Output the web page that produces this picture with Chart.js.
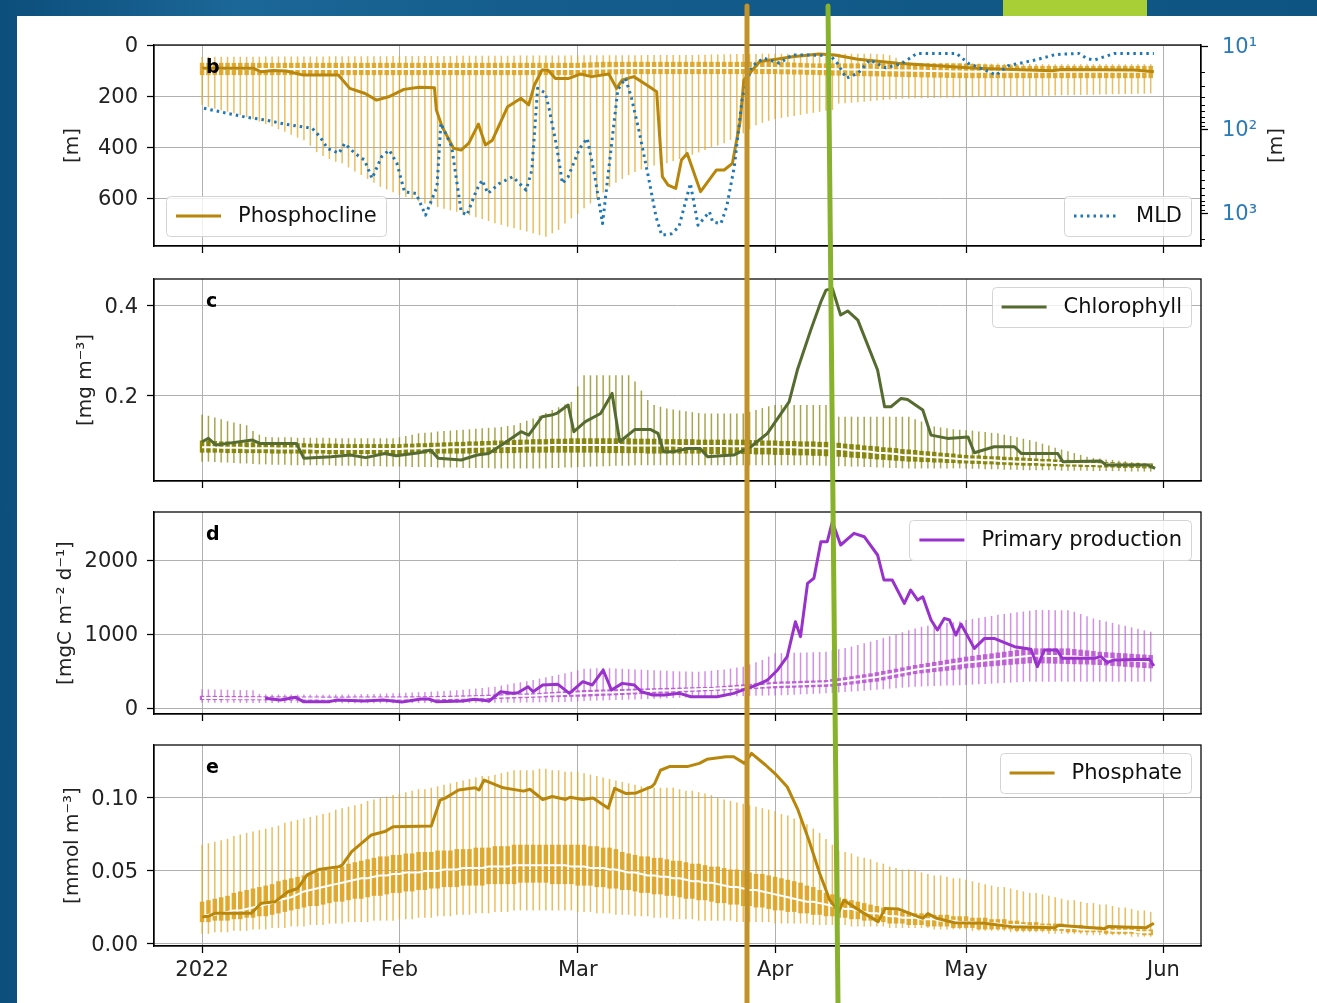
<!DOCTYPE html>
<html>
<head>
<meta charset="utf-8">
<title>Phosphocline, chlorophyll, primary production and phosphate, 2022</title>
<script src="https://cdn.jsdelivr.net/npm/chart.js@4.4.1/dist/chart.umd.min.js"></script>
<style>
html,body{margin:0;padding:0}
body{width:1317px;height:1003px;overflow:hidden;position:relative;
  background:linear-gradient(90deg,#0c4e7c 0%,#1b6797 18%,#145d8c 40%,#0e5482 100%)}
#sheet{position:absolute;left:17px;top:16px;width:1300px;height:987px;background:#fff}
#tab{position:absolute;left:1003px;top:0;width:144px;height:16px;background:#a9cf36}
canvas{position:absolute;left:0}
#marks{position:absolute;left:0;top:0;pointer-events:none}
</style>
</head>
<body>
<div id="sheet"></div>
<div id="tab"></div>
<canvas id="pb" width="1317" height="231" style="top:25px"></canvas>
<canvas id="pc" width="1317" height="232" style="top:259px"></canvas>
<canvas id="pd" width="1317" height="232" style="top:492px"></canvas>
<canvas id="pe" width="1317" height="266" style="top:725px"></canvas>
<svg id="marks" width="1317" height="1003">
  <line x1="747" y1="6" x2="747" y2="1003" stroke="#c1922c" stroke-width="5" stroke-linecap="round"/>
  <line x1="828" y1="6" x2="838" y2="1003" stroke="#88b22c" stroke-width="5" stroke-linecap="round"/>
</svg>
<script>
// ---- time axis: day of year 2022 (0 = 1 Jan) ----
const MONTH_DAYS = [0, 31, 59, 90, 120, 151];
const MONTH_LABELS = ['2022', 'Feb', 'Mar', 'Apr', 'May', 'Jun'];
const DAYS = Array.from({length: 150}, (_, i) => i); // daily climatology boxes, 1 Jan .. 30 May

// ---- b: phosphocline depth [m] and mixed layer depth [m] ----
const PHOSPHOCLINE = [[0,91],[8,91],[9.3,105],[11.1,100],[13.2,102],[15.9,118],[21.4,118],[23.2,170],[25.6,190],[27.4,216],[29.3,203],[31.7,174],[34.1,166],[36.5,168],[36.8,255],[37.7,320],[39.5,405],[40.7,412],[41.9,385],[43.4,310],[44.5,392],[45.6,373],[48,242],[50.1,209],[51.3,235],[52.2,157],[53.4,98],[54.3,98],[55.5,131],[57.6,131],[59.4,114],[61.2,124],[63.9,114],[65.1,170],[66,137],[67.8,124],[70.2,163],[71.4,183],[72.3,516],[73.2,549],[74.4,562],[75.3,451],[76.2,425],[78.3,575],[80.8,490],[82,490],[83.3,464],[84.5,300],[85.1,137],[87.6,65],[90.2,56],[92.7,46],[96.9,35],[99.4,39],[103,56],[109.3,72],[121.6,91],[133.5,101],[135,96],[146.4,98],[149.5,105]];
const MLD = [[0.3,55],[3.9,63],[7,70.5],[10,76],[13,85],[17.3,95.5],[18.5,120],[19.7,166],[21.5,190],[22.4,145],[24,190],[25.5,229],[26.7,380],[28.2,209],[29.4,174],[30.6,251],[31.8,550],[33.6,575],[35.1,1047],[36.9,479],[37.5,83],[39.2,158],[40.7,955],[41.6,1047],[43.1,525],[44,398],[44.9,575],[46.7,437],[48.8,363],[50.9,525],[51.8,302],[52.7,31.6],[53.9,36],[54.5,55],[55.7,158],[56.6,437],[57.5,363],[59.3,166],[60.5,126],[61.7,363],[62.9,1318],[63.8,331],[65.3,33],[66.5,24],[67.4,40],[68.6,100],[70.1,363],[71.3,1096],[72.2,1820],[73.7,1750],[74.9,1445],[76.7,437],[77.9,1380],[79.7,955],[80.2,1260],[81.5,1318],[82.4,830],[83.6,275],[84.8,44],[86.3,17.4],[88.2,13.8],[90.7,15.9],[92.7,12.6],[98.7,12.8],[99.8,16],[101.2,24],[103,21],[104.9,14.5],[107.4,18],[109.9,16],[112.3,12.1],[118.5,12.1],[120.4,16],[122.9,19],[124.7,22],[126.6,17],[130.9,14.5],[134,12.5],[137.7,12.1],[139,14],[140.2,14.5],[143.3,12.1],[149.5,12.1]];
const B_TOP = [
46,46,46,46,46,46,46,46,46,46,
45,45,45,45,45,45,45,45,45,45,
44,44,44,44,44,44,44,44,44,44,
43,43,43,43,43,43,43,43,43,43,
42,42,42,42,42,42,42,42,42,42,
41,41,41,41,41,41,41,41,41,41,
40,40,40,40,40,40,40,40,40,40,
39,39,39,39,39,39,39,39,38,38,
37,37,36,36,35,35,35,35,34,34,
34,34,34,34,34,34,34,34,34,34,
34,34,34,34,34,34,35,36,40,50,
60,66,70,72,72,72,72,72,72,72,
72,72,73,73,73,73,74,74,74,74,
74,74,75,75,75,75,75,75,75,75,
75,75,75,75,75,75,75,75,75,75];
const B_Q1 = [
70,70,70,70,70,70,70,70,70,70,
70,70,70,70,70,70,70,70,70,70,
70,70,70,70,70,70,70,70,70,70,
70,70,70,70,70,70,70,70,70,70,
70,70,70,70,70,70,70,70,70,70,
70,70,70,70,70,70,70,70,70,70,
69,68,67,66,66,66,66,66,66,66,
66,66,66,66,66,66,66,66,66,66,
66,66,66,66,66,66,66,66,66,66,
66,67,68,69,70,71,72,72,72,72,
72,72,72,72,72,72,72,72,72,72,
72,72,72,72,72,72,72,72,72,72,
73,74,75,76,77,78,79,80,81,82,
82,82,82,82,82,82,82,82,82,82,
82,82,82,82,82,82,82,82,82,82];
const B_MED = [
94,94,94,94,94,94,94,94,94,94,
94,94,94,94,94,94,94,94,94,94,
94,94,94,94,94,94,94,94,94,94,
94,94,94,94,94,94,94,94,94,94,
94,94,94,94,94,94,94,94,94,94,
94,94,94,94,94,94,94,94,94,94,
93,93,92,92,91,91,90,90,90,90,
90,90,90,90,90,90,90,90,90,90,
90,90,90,90,90,90,90,90,90,90,
90,91,91,92,92,93,93,94,94,95,
95,95,96,96,97,97,98,98,99,99,
100,100,101,101,102,102,103,103,104,104,
105,105,105,105,105,105,105,105,105,105,
105,105,105,105,105,105,105,105,105,105,
105,105,105,105,105,105,105,105,105,105];
const B_Q3 = [
118,118,118,118,118,118,118,118,118,118,
118,118,118,118,118,118,118,118,118,118,
118,118,118,118,118,118,118,118,118,118,
118,118,118,118,118,118,118,118,118,118,
118,118,118,118,118,118,118,118,118,118,
118,118,118,118,118,118,118,118,118,118,
117,117,116,116,115,115,114,114,114,114,
114,114,114,114,114,114,114,114,114,114,
114,114,114,114,114,114,114,114,114,114,
114,115,115,116,116,117,117,118,119,120,
120,121,121,122,122,123,123,124,124,125,
125,126,126,127,127,128,128,129,129,130,
130,130,130,130,130,130,130,130,130,130,
130,130,130,130,130,130,130,130,130,130,
130,130,130,130,130,130,130,130,130,130];
const B_BOT = [
235,243,250,256,262,268,275,283,290,300,
310,320,330,340,352,363,373,395,420,435,
447,458,464,480,496,510,525,540,556,566,
577,588,596,605,613,621,628,635,642,648,
654,661,668,675,682,690,699,705,712,718,
725,731,738,745,752,738,725,700,680,662,
640,621,600,578,556,540,525,510,498,488,
477,472,468,464,455,447,438,430,421,412,
403,394,385,372,359,346,330,315,305,297,
290,286,282,278,274,270,266,262,258,255,
230,228,226,224,222,220,218,216,214,212,
210,210,209,209,208,208,207,207,206,206,
205,205,204,204,203,203,202,202,201,201,
200,200,199,199,198,197,197,196,196,195,
195,194,194,193,193,192,192,191,191,190];

// ---- c: chlorophyll [mg m-3] ----
const CHLOROPHYLL = [[0,.0963],[1,.1037],[2.2,.0889],[4,.0926],[7.9,.100],[9.1,.0926],[14.8,.0926],[16,.0593],[20.3,.063],[23.3,.0667],[25.7,.061],[28.7,.070],[30.5,.065],[34.1,.0718],[35.9,.0778],[37.1,.0593],[40.7,.0556],[43.2,.0667],[45,.070],[47.4,.0926],[50.1,.1185],[51.3,.111],[53.4,.152],[54.9,.1556],[55.8,.160],[57.5,.178],[58.4,.1185],[60.2,.141],[62.6,.159],[64.4,.2037],[65.6,.0963],[68,.1237],[70.4,.1237],[71.6,.115],[72.5,.074],[74,.074],[76.4,.0815],[78.2,.0815],[79.4,.063],[81.5,.065],[83.5,.0667],[86.2,.0852],[88.8,.115],[92.2,.185],[93.5,.2556],[95.6,.3444],[97.2,.4074],[98,.4333],[99,.437],[100.3,.3778],[101.4,.387],[103,.3667],[106.1,.2556],[107.2,.174],[108.2,.174],[109.8,.1926],[110.8,.190],[113.2,.1667],[114.5,.111],[117.1,.1037],[120.3,.107],[121.3,.0718],[124.4,.0852],[127.6,.0852],[128.7,.070],[134.4,.070],[135.2,.0518],[141.2,.0533],[142,.0444],[148.6,.0444],[149.7,.037]];
const C_HI = [
0.156,0.154,0.150,0.146,0.142,0.139,0.136,0.133,0.120,0.112,
0.107,0.106,0.106,0.106,0.106,0.105,0.105,0.105,0.105,0.105,
0.105,0.104,0.104,0.104,0.104,0.104,0.104,0.104,0.104,0.104,
0.104,0.106,0.109,0.112,0.115,0.116,0.117,0.119,0.120,0.121,
0.122,0.123,0.124,0.125,0.126,0.127,0.128,0.129,0.131,0.133,
0.138,0.143,0.148,0.154,0.160,0.167,0.173,0.179,0.185,0.219,
0.244,0.244,0.244,0.244,0.244,0.244,0.244,0.244,0.230,0.210,
0.189,0.178,0.174,0.170,0.168,0.166,0.164,0.162,0.160,0.159,
0.159,0.159,0.159,0.159,0.159,0.159,0.163,0.167,0.171,0.175,
0.178,0.178,0.178,0.178,0.178,0.178,0.178,0.178,0.178,0.165,
0.152,0.152,0.152,0.152,0.152,0.152,0.152,0.152,0.152,0.152,
0.152,0.152,0.146,0.141,0.135,0.130,0.128,0.126,0.124,0.123,
0.122,0.121,0.119,0.118,0.116,0.115,0.112,0.109,0.106,0.103,
0.100,0.096,0.092,0.088,0.083,0.079,0.075,0.071,0.067,0.063,
0.060,0.059,0.057,0.056,0.054,0.053,0.051,0.050,0.048,0.048];
const C_Q3 = [
0.099,0.098,0.098,0.097,0.097,0.096,0.096,0.095,0.095,0.095,
0.094,0.094,0.094,0.093,0.093,0.093,0.093,0.092,0.092,0.092,
0.092,0.092,0.091,0.091,0.091,0.091,0.091,0.091,0.091,0.091,
0.091,0.091,0.092,0.092,0.093,0.093,0.094,0.094,0.095,0.095,
0.096,0.096,0.097,0.097,0.098,0.098,0.099,0.099,0.100,0.100,
0.101,0.101,0.102,0.102,0.102,0.103,0.103,0.103,0.104,0.104,
0.104,0.104,0.104,0.104,0.104,0.104,0.104,0.104,0.103,0.103,
0.103,0.103,0.103,0.102,0.102,0.102,0.102,0.102,0.101,0.101,
0.101,0.101,0.101,0.101,0.101,0.101,0.100,0.100,0.099,0.099,
0.099,0.098,0.098,0.098,0.097,0.097,0.097,0.096,0.096,0.095,
0.094,0.092,0.091,0.090,0.088,0.087,0.086,0.084,0.083,0.082,
0.080,0.079,0.078,0.076,0.075,0.074,0.072,0.071,0.070,0.068,
0.067,0.066,0.066,0.065,0.064,0.064,0.063,0.062,0.062,0.061,
0.060,0.059,0.058,0.058,0.057,0.056,0.056,0.055,0.054,0.053,
0.052,0.052,0.051,0.051,0.050,0.050,0.049,0.049,0.048,0.048];
const C_MED = [
0.084,0.084,0.084,0.083,0.083,0.083,0.083,0.082,0.082,0.082,
0.082,0.082,0.081,0.081,0.081,0.081,0.081,0.081,0.080,0.080,
0.080,0.080,0.080,0.080,0.080,0.080,0.080,0.080,0.080,0.080,
0.080,0.080,0.081,0.081,0.082,0.082,0.082,0.083,0.083,0.084,
0.084,0.084,0.085,0.085,0.085,0.086,0.086,0.086,0.087,0.087,
0.087,0.088,0.088,0.088,0.088,0.089,0.089,0.089,0.089,0.089,
0.089,0.089,0.089,0.089,0.089,0.089,0.089,0.088,0.088,0.088,
0.088,0.088,0.088,0.088,0.088,0.087,0.087,0.087,0.087,0.087,
0.087,0.087,0.087,0.086,0.086,0.086,0.086,0.085,0.085,0.085,
0.085,0.084,0.084,0.084,0.083,0.083,0.083,0.082,0.082,0.081,
0.080,0.079,0.077,0.076,0.075,0.074,0.072,0.071,0.070,0.069,
0.067,0.066,0.065,0.064,0.063,0.062,0.061,0.060,0.059,0.058,
0.057,0.057,0.056,0.055,0.055,0.054,0.053,0.053,0.052,0.052,
0.051,0.051,0.050,0.050,0.049,0.049,0.048,0.048,0.048,0.047,
0.047,0.046,0.046,0.046,0.045,0.045,0.045,0.044,0.044,0.044];
const C_Q1 = [
0.072,0.072,0.072,0.072,0.071,0.071,0.071,0.071,0.071,0.071,
0.071,0.070,0.070,0.070,0.070,0.070,0.070,0.070,0.070,0.070,
0.069,0.069,0.069,0.069,0.069,0.069,0.069,0.069,0.069,0.069,
0.069,0.069,0.069,0.069,0.069,0.070,0.070,0.070,0.070,0.070,
0.070,0.070,0.070,0.071,0.071,0.071,0.071,0.071,0.071,0.071,
0.072,0.072,0.072,0.072,0.072,0.072,0.072,0.072,0.072,0.072,
0.072,0.072,0.072,0.071,0.071,0.071,0.071,0.071,0.071,0.071,
0.070,0.070,0.070,0.070,0.070,0.070,0.070,0.070,0.070,0.069,
0.069,0.069,0.069,0.069,0.069,0.069,0.069,0.068,0.068,0.068,
0.067,0.067,0.067,0.066,0.066,0.066,0.065,0.065,0.064,0.064,
0.063,0.062,0.061,0.060,0.059,0.058,0.057,0.056,0.055,0.054,
0.053,0.052,0.052,0.051,0.051,0.050,0.050,0.049,0.049,0.048,
0.048,0.047,0.047,0.046,0.046,0.045,0.045,0.044,0.044,0.043,
0.043,0.043,0.042,0.042,0.042,0.041,0.041,0.041,0.040,0.040,
0.040,0.039,0.039,0.039,0.038,0.038,0.038,0.038,0.037,0.037];
const C_LO = [
0.052,0.052,0.051,0.050,0.050,0.049,0.048,0.048,0.047,0.046,
0.046,0.045,0.045,0.045,0.044,0.044,0.044,0.044,0.044,0.044,
0.044,0.043,0.043,0.043,0.043,0.042,0.042,0.042,0.042,0.041,
0.041,0.041,0.041,0.040,0.040,0.040,0.040,0.039,0.039,0.039,
0.039,0.038,0.038,0.038,0.038,0.038,0.037,0.037,0.037,0.037,
0.037,0.037,0.037,0.037,0.037,0.038,0.038,0.039,0.039,0.040,
0.040,0.041,0.041,0.042,0.042,0.043,0.043,0.043,0.044,0.044,
0.044,0.044,0.044,0.044,0.044,0.044,0.044,0.044,0.044,0.044,
0.044,0.044,0.044,0.044,0.044,0.044,0.044,0.044,0.044,0.044,
0.044,0.044,0.044,0.044,0.044,0.044,0.044,0.043,0.043,0.043,
0.042,0.042,0.041,0.041,0.040,0.040,0.039,0.039,0.038,0.038,
0.037,0.037,0.037,0.037,0.037,0.037,0.037,0.037,0.037,0.037,
0.036,0.036,0.036,0.035,0.035,0.035,0.034,0.034,0.034,0.033,
0.033,0.033,0.033,0.033,0.033,0.032,0.032,0.032,0.032,0.032,
0.031,0.031,0.031,0.031,0.031,0.030,0.030,0.030,0.030,0.030];

// ---- d: primary production [mgC m-2 d-1] ----
const PRIMARY_PRODUCTION = [[9.9,131],[12.3,108],[14.7,144],[15.9,86],[20,86],[21.2,108],[25.4,95],[28.4,108],[31.4,81],[34.4,122],[35.6,122],[36.8,86],[41,95],[42.8,117],[45.1,95],[46.9,220],[48.7,198],[49.6,205],[51.2,288],[52,220],[53.5,311],[55.9,320],[57.7,198],[59.8,356],[61.3,311],[63,513],[64.3,243],[66,333],[67.9,311],[69,220],[70.8,176],[72.6,176],[75,198],[76.8,153],[80.9,153],[83.5,198],[85.6,266],[86.7,297],[88.8,378],[90.4,514],[91.9,694],[93.2,1167],[94,964],[95.1,1685],[96.1,1753],[97.2,2248],[98.2,2248],[99,2518],[100.3,2203],[102.4,2360],[104,2315],[106.1,2068],[107.1,1730],[108.4,1730],[110.3,1414],[111.3,1595],[112.4,1459],[113.2,1504],[114.5,1189],[115.5,1054],[116.6,1212],[117.4,1189],[118.4,986],[119.2,1135],[121.3,806],[122.9,941],[124.4,941],[127.6,829],[130.2,793],[131.2,559],[132.3,784],[134.3,784],[135.1,671],[140.1,671],[141.2,694],[142.2,613],[143.2,649],[148.8,658],[149.5,568]];
const D_HI = [
255,253,251,249,247,245,243,241,240,190,
185,184,183,182,182,181,181,180,180,180,
180,181,182,183,184,186,188,190,193,196,
199,202,206,210,214,218,222,226,230,235,
240,248,256,264,272,280,288,303,318,333,
348,363,378,396,414,432,450,470,490,510,
530,533,537,540,537,533,530,526,522,518,
513,510,506,502,498,495,493,491,491,498,
505,513,520,533,546,558,589,620,650,695,
739,741,743,746,748,750,754,757,761,778,
795,812,830,852,875,897,919,945,971,997,
1024,1050,1075,1099,1112,1125,1138,1150,1160,1170,
1189,1203,1217,1231,1245,1260,1271,1282,1293,1304,
1315,1324,1324,1323,1322,1321,1320,1300,1270,1240,
1210,1189,1170,1150,1130,1110,1090,1070,1050,1031];
const D_Q3 = [
165,164,164,163,163,162,162,161,161,160,
160,159,159,158,158,157,157,156,156,155,
155,155,155,156,156,156,157,157,157,158,
158,158,158,159,159,160,161,163,164,166,
168,170,172,174,176,180,183,186,189,192,
195,198,200,205,211,216,222,227,232,238,
243,245,248,250,252,254,257,259,261,264,
266,268,270,272,274,276,278,281,283,285,
285,292,299,306,313,320,327,334,341,348,
356,359,361,364,367,370,372,375,378,391,
404,417,430,443,455,468,484,500,516,532,
548,565,581,595,609,623,637,652,666,680,
694,705,716,727,738,750,761,772,783,795,
806,806,806,806,806,806,806,797,788,779,
770,761,755,750,744,739,733,727,722,716];
const D_MED = [
135,135,134,134,133,133,132,132,131,131,
130,130,129,129,128,128,127,127,127,126,
126,126,126,126,127,127,127,128,128,129,
129,129,130,130,131,131,132,133,134,136,
138,140,142,144,146,149,152,155,158,161,
164,167,170,174,178,182,186,190,193,196,
200,202,205,208,210,213,217,220,223,226,
229,232,235,238,241,244,247,250,253,256,
258,262,266,271,276,281,287,292,297,303,
310,313,316,319,322,325,327,330,333,341,
350,362,374,385,397,409,420,436,452,468,
484,501,518,530,542,554,566,578,590,601,
614,623,632,641,651,660,669,678,687,697,
706,706,705,704,703,702,701,695,689,684,
678,672,666,660,655,649,643,637,632,626];
const D_Q1 = [
108,108,107,107,106,106,105,105,104,104,
103,103,102,102,101,101,100,100,100,100,
100,100,100,100,100,100,101,101,101,102,
102,102,103,103,104,104,105,106,107,108,
109,110,112,114,116,118,120,123,126,129,
132,135,138,141,143,145,147,149,151,152,
153,157,161,165,168,172,176,180,184,188,
191,195,199,203,207,211,215,218,220,225,
229,233,237,241,245,249,253,257,261,264,
266,269,271,274,276,278,281,283,285,288,
298,308,318,328,338,348,356,373,390,408,
425,442,458,468,477,486,494,503,511,520,
536,543,550,557,563,570,577,584,591,597,
604,604,603,601,599,597,594,592,590,588,
584,581,575,569,563,557,551,546,541,536];
const D_LO = [
72,72,71,71,70,70,70,69,69,69,
68,68,68,67,67,67,66,66,66,66,
66,66,65,65,65,65,65,65,65,65,
65,65,66,66,66,67,67,68,68,68,
69,69,69,70,70,70,71,71,72,72,
73,74,75,76,77,78,79,80,85,90,
95,98,100,103,105,108,110,113,115,118,
120,124,128,131,135,139,143,147,150,152,
153,155,157,158,160,162,163,165,167,168,
170,173,177,180,184,187,191,194,198,204,
210,216,222,228,234,240,247,254,261,268,
275,282,288,291,294,297,300,303,306,308,
311,316,320,325,329,334,338,343,347,352,
356,356,356,356,356,356,356,356,356,356,
356,356,356,356,356,356,356,356,356,356];

// ---- e: phosphate [mmol m-3] ----
const PHOSPHATE = [[0,.0187],[1,.019],[2,.021],[7.7,.021],[9.3,.0279],[11.5,.029],[13.5,.0358],[15,.038],[16.5,.0473],[18.3,.051],[21.5,.053],[22,.054],[23.5,.0632],[26.6,.0747],[28.7,.077],[30,.0803],[36,.0808],[37.4,.0986],[38.2,.0999],[40.3,.1055],[42.9,.107],[43.5,.1055],[44.3,.1123],[47.3,.107],[50.5,.1047],[51.5,.106],[53.5,.099],[55,.101],[57.1,.099],[57.8,.1005],[59.8,.099],[61.4,.100],[63.8,.093],[64.8,.1066],[66.6,.103],[68.2,.1035],[70.7,.108],[71.1,.110],[72,.119],[73.4,.1215],[76.2,.1215],[78.1,.1237],[79.3,.1265],[82.3,.1283],[83.5,.1283],[85.2,.1237],[86.3,.1306],[88.5,.1226],[90.2,.1158],[91.9,.1077],[93.6,.0918],[95.3,.0712],[97,.0484],[98.6,.030],[100,.022],[100.8,.030],[103.6,.022],[106.2,.0153],[107.3,.0244],[109.3,.024],[113.2,.0176],[114,.0208],[115.4,.0176],[118.2,.0146],[122.8,.0142],[127.2,.0119],[134,.0112],[134.5,.0128],[141.8,.0105],[142.3,.012],[148.3,.0112],[149.5,.0142]];
const E_HI = [
.068,.069,.070,.071,.072,.074,.075,.076,.077,.078,
.079,.080,.081,.083,.084,.085,.086,.087,.088,.089,
.090,.092,.093,.094,.095,.096,.098,.099,.100,.101,
.102,.103,.104,.105,.106,.106,.107,.108,.109,.110,
.111,.112,.113,.114,.115,.115,.116,.117,.118,.119,
.119,.119,.119,.120,.120,.119,.119,.118,.118,.118,
.117,.116,.115,.114,.113,.112,.111,.110,.109,.108,
.108,.107,.107,.107,.107,.106,.105,.105,.104,.103,
.102,.100,.099,.098,.097,.096,.095,.094,.093,.092,
.091,.089,.088,.086,.085,.082,.079,.076,.072,.068,
.064,.063,.062,.060,.059,.058,.056,.055,.053,.052,
.051,.051,.050,.049,.048,.047,.047,.046,.045,.045,
.044,.043,.042,.041,.040,.039,.039,.038,.037,.036,
.035,.035,.034,.033,.032,.031,.030,.030,.029,.028,
.028,.027,.027,.026,.025,.025,.024,.023,.023,.022];
const E_Q3 = [
.029,.030,.031,.032,.033,.035,.036,.037,.038,.039,
.040,.041,.043,.044,.045,.046,.047,.048,.049,.050,
.051,.052,.053,.055,.056,.057,.058,.059,.060,.060,
.061,.061,.062,.062,.063,.063,.063,.064,.064,.064,
.065,.065,.065,.066,.066,.066,.067,.067,.067,.068,
.068,.068,.068,.068,.068,.068,.068,.068,.068,.068,
.068,.067,.067,.066,.066,.065,.063,.062,.061,.060,
.060,.059,.059,.058,.057,.057,.056,.055,.055,.054,
.053,.053,.052,.051,.051,.050,.049,.048,.048,.047,
.046,.045,.044,.043,.042,.040,.039,.037,.035,.034,
.032,.031,.030,.029,.028,.027,.026,.025,.024,.023,
.022,.022,.021,.021,.021,.020,.020,.020,.019,.019,
.019,.018,.018,.018,.017,.017,.017,.016,.016,.015,
.015,.015,.014,.014,.014,.014,.013,.013,.013,.012,
.012,.012,.012,.011,.011,.011,.011,.010,.010,.010];
const E_MED = [
.019,.020,.020,.021,.022,.023,.023,.024,.025,.026,
.027,.028,.030,.031,.032,.034,.036,.037,.038,.039,
.040,.041,.042,.043,.044,.045,.045,.046,.047,.047,
.048,.048,.049,.049,.049,.050,.050,.050,.051,.051,
.051,.052,.052,.052,.052,.053,.053,.053,.053,.054,
.054,.054,.054,.054,.054,.054,.054,.054,.053,.053,
.053,.052,.052,.052,.051,.051,.050,.049,.049,.048,
.047,.047,.046,.046,.045,.045,.044,.043,.043,.042,
.042,.041,.040,.039,.039,.038,.037,.037,.036,.035,
.034,.033,.032,.031,.030,.029,.029,.028,.027,.026,
.025,.024,.024,.023,.022,.021,.021,.020,.019,.019,
.018,.018,.018,.017,.017,.017,.016,.016,.016,.015,
.015,.015,.014,.014,.014,.014,.013,.013,.013,.013,
.012,.012,.012,.012,.011,.011,.011,.011,.010,.010,
.010,.010,.010,.009,.009,.009,.009,.008,.008,.008];
const E_Q1 = [
.015,.015,.016,.016,.016,.017,.017,.018,.018,.019,
.019,.020,.021,.022,.023,.024,.025,.026,.026,.027,
.028,.029,.029,.030,.031,.031,.032,.033,.033,.034,
.035,.035,.036,.036,.037,.037,.038,.038,.039,.039,
.039,.040,.040,.040,.040,.041,.041,.041,.041,.041,
.042,.042,.042,.042,.042,.041,.041,.041,.041,.040,
.040,.040,.039,.039,.038,.038,.037,.037,.036,.035,
.035,.034,.034,.033,.033,.032,.031,.031,.030,.030,
.029,.028,.028,.027,.027,.026,.026,.025,.025,.024,
.023,.023,.022,.022,.021,.021,.020,.020,.019,.019,
.018,.018,.017,.017,.016,.016,.015,.015,.014,.014,
.014,.013,.013,.013,.012,.012,.012,.012,.011,.011,
.011,.011,.010,.010,.010,.010,.010,.010,.009,.009,
.009,.009,.009,.009,.009,.009,.008,.008,.008,.008,
.008,.008,.007,.007,.007,.007,.007,.007,.006,.006];
const E_LO = [
.007,.007,.008,.008,.008,.009,.009,.009,.010,.010,
.010,.011,.011,.011,.012,.012,.012,.013,.013,.013,
.014,.014,.014,.015,.015,.015,.015,.016,.016,.016,
.016,.017,.017,.017,.018,.018,.018,.019,.019,.019,
.020,.020,.020,.021,.021,.021,.022,.022,.022,.023,
.023,.023,.023,.023,.023,.023,.023,.023,.023,.022,
.022,.022,.021,.021,.021,.020,.020,.020,.019,.019,
.019,.018,.018,.018,.017,.017,.017,.017,.016,.016,
.016,.016,.016,.016,.015,.015,.015,.015,.015,.015,
.014,.014,.014,.014,.014,.014,.013,.013,.013,.013,
.013,.013,.012,.012,.012,.012,.012,.012,.011,.011,
.011,.011,.011,.011,.011,.010,.010,.010,.010,.010,
.010,.009,.009,.009,.009,.009,.009,.008,.008,.008,
.008,.008,.008,.007,.007,.007,.007,.007,.007,.006,
.006,.006,.006,.006,.006,.006,.005,.005,.005,.005];

// ---- axis ticks ----
const B_TICKS = [0, 200, 400, 600];
const MLD_TICKS = [10, 100, 1000];
const MLD_TICK_LABELS = {10: '10¹', 100: '10²', 1000: '10³'};
const MLD_MINOR_TICKS = [20, 30, 40, 50, 60, 70, 80, 90, 200, 300, 400, 500, 600, 700, 800, 900, 2000];
const C_TICKS = [0.2, 0.4];
const D_TICKS = [0, 1000, 2000];
const E_TICKS = [0, 0.05, 0.10];

// ---- helpers ----
Chart.defaults.font.family = '"DejaVu Sans", sans-serif';
Chart.defaults.color = '#222';

const X_MIN = -7.55, X_MAX = 156.9;
const GRID = {color: '#b0b0b0', lineWidth: 1, offset: false, drawTicks: true, tickLength: 7, tickColor: '#000', tickWidth: 1.25};
const BORDER = {display: true, color: '#000', width: 1.25};
const TICK_FONT = {size: 21};

// fixed axis box sizes, no extra label overhang padding
function fixBox(s, w, h) {
  if (w !== null) s.width = w;
  if (h !== null) s.height = h;
  s.paddingTop = 0; s.paddingBottom = 0; s.paddingLeft = 0; s.paddingRight = 0;
}

const pairs = list => list.map(([x, y]) => ({x, y}));
const daily = vals => DAYS.map((d, i) => ({x: d, y: vals[i]}));
const ranges = (lo, hi) => DAYS.map((d, i) => ({x: d, y: [lo[i], hi[i]]}));

function xAxis(withLabels) {
  return {
    type: 'linear', min: X_MIN, max: X_MAX, offset: false,
    afterBuildTicks: s => { s.ticks = MONTH_DAYS.map(v => ({value: v})); },
    afterFit: s => fixBox(s, null, withLabels ? 45 : 10),
    grid: GRID, border: BORDER,
    ticks: {display: withLabels, padding: 5, maxRotation: 0, autoSkip: false, font: TICK_FONT, color: '#222',
      callback: v => MONTH_LABELS[MONTH_DAYS.indexOf(v)]}
  };
}
function yAxis({min, max, ticks, fmt, title, width, reverse = false}) {
  return {
    type: 'linear', position: 'left', min, max, reverse,
    afterBuildTicks: s => { s.ticks = ticks.map(v => ({value: v})); },
    afterFit: s => fixBox(s, width, null),
    grid: GRID, border: BORDER,
    ticks: {padding: 9, labelOffset: 2, font: TICK_FONT, color: '#222', callback: v => fmt(v)},
    title: {display: true, text: title, font: {size: 20}, color: '#222', padding: 0}
  };
}
function boxSets(lo, q1, med, q3, hi, whiskerColor, boxColor) {
  return [
    {type: 'bar', data: ranges(lo, hi), backgroundColor: whiskerColor, barThickness: 1.5, grouped: false, borderWidth: 0, inflateAmount: 0, order: 6},
    {type: 'bar', data: ranges(q1, q3), backgroundColor: boxColor, barThickness: 4.5, grouped: false, borderWidth: 0, inflateAmount: 0, order: 5},
    {type: 'line', data: daily(med), borderColor: '#ffffff', borderWidth: 2, pointRadius: 0, order: 4}
  ];
}
function mainLine(label, list, color, extra = {}) {
  return Object.assign({type: 'line', label, data: pairs(list), borderColor: color, borderWidth: 3,
    pointRadius: 0, tension: 0, borderJoinStyle: 'round', order: 1}, extra);
}

// frame, panel letter, in-axes legends, log minor ticks
const decor = {
  id: 'decor',
  afterDraw(chart, _args, o) {
    const {ctx, chartArea: a} = chart;
    ctx.save();
    ctx.strokeStyle = '#000';
    ctx.lineWidth = 1.25;
    ctx.strokeRect(a.left, a.top, a.right - a.left, a.bottom - a.top);
    if (o.logAxis) {
      const s = chart.scales[o.logAxis];
      ctx.lineWidth = 1;
      ctx.beginPath();
      MLD_MINOR_TICKS.forEach(v => {
        const y = Math.round(s.getPixelForValue(v)) + 0.5;
        ctx.moveTo(a.right, y); ctx.lineTo(a.right + 4, y);
      });
      ctx.stroke();
      ctx.save();
      ctx.font = '20px "DejaVu Sans"';
      ctx.fillStyle = '#222';
      ctx.translate(o.rightTitleX, (a.top + a.bottom) / 2);
      ctx.rotate(-Math.PI / 2);
      ctx.textAlign = 'center'; ctx.textBaseline = 'middle';
      ctx.fillText(o.rightTitle, 0, 0);
      ctx.restore();
    }
    ctx.font = 'bold 19px "DejaVu Sans"';
    ctx.fillStyle = '#000';
    ctx.textAlign = 'left'; ctx.textBaseline = 'middle';
    ctx.fillText(o.letter, a.left + 52, a.top + 23);
    (o.legends || []).forEach(L => {
      const ds = chart.data.datasets[L.dataset];
      ctx.font = '21px "DejaVu Sans"';
      const tw = ctx.measureText(ds.label).width;
      const w = 72 + tw + 9, h = 40;
      const x = L.corner[1] === 'l' ? a.left + 12 : a.right - 10 - w;
      const y = L.corner[0] === 'u' ? a.top + 8 : a.bottom - 10 - h;
      ctx.beginPath();
      ctx.roundRect(Math.round(x) + 0.5, Math.round(y) + 0.5, Math.round(w), h, 4);
      ctx.fillStyle = 'rgba(255,255,255,0.8)';
      ctx.fill();
      ctx.strokeStyle = '#d4d4d4'; ctx.lineWidth = 1;
      ctx.stroke();
      ctx.beginPath();
      ctx.setLineDash(ds.borderDash || []);
      ctx.strokeStyle = ds.borderColor; ctx.lineWidth = ds.borderWidth;
      ctx.moveTo(x + 10, y + h / 2); ctx.lineTo(x + 55, y + h / 2);
      ctx.stroke();
      ctx.setLineDash([]);
      ctx.fillStyle = '#111';
      ctx.textAlign = 'left'; ctx.textBaseline = 'middle';
      ctx.fillText(ds.label, x + 72, y + h / 2 + 1);
    });
    ctx.restore();
  }
};

function panel(id, {datasets, scales, padLeft, padRight, decorOpts}) {
  return new Chart(document.getElementById(id), {
    type: 'bar',
    data: {datasets},
    options: {
      responsive: false, animation: false, devicePixelRatio: 1, events: [],
      layout: {padding: {left: padLeft, right: padRight, top: 20, bottom: 0}},
      scales,
      plugins: {legend: {display: false}, tooltip: {enabled: false}, decor: decorOpts}
    },
    plugins: [decor]
  });
}

const GOLD_LINE = '#b8860b';
const GOLD_WHISKER = 'rgba(224,168,40,0.75)';
const GOLD_BOX = 'rgba(222,167,40,0.95)';

// b: phosphocline and mixed layer depth
panel('pb', {
  padLeft: 61, padRight: 0,
  datasets: [
    mainLine('Phosphocline', PHOSPHOCLINE, GOLD_LINE, {yAxisID: 'y'}),
    mainLine('MLD', MLD, '#1f77b4', {yAxisID: 'y2', borderDash: [2.5, 4], borderCapStyle: 'butt', order: 0}),
    ...boxSets(B_TOP, B_Q1, B_MED, B_Q3, B_BOT, GOLD_WHISKER, GOLD_BOX)
  ],
  scales: {
    x: xAxis(false),
    y: yAxis({min: 0, max: 788, reverse: true, ticks: B_TICKS, fmt: v => String(v), title: '[m]', width: 93}),
    y2: {
      type: 'logarithmic', position: 'right', min: 9.6, max: 2450, reverse: true,
      afterBuildTicks: s => { s.ticks = MLD_TICKS.map(v => ({value: v})); },
      afterFit: s => fixBox(s, 116, null),
      grid: {drawOnChartArea: false, drawTicks: true, tickLength: 7, tickColor: '#000', tickWidth: 1.25},
      border: BORDER,
      ticks: {padding: 14, labelOffset: 1, font: TICK_FONT, color: '#2b7bb9', callback: v => MLD_TICK_LABELS[v] || ''}
    }
  },
  decorOpts: {letter: 'b', logAxis: 'y2', rightTitle: '[m]', rightTitleX: 1277,
    legends: [{dataset: 0, corner: 'll'}, {dataset: 1, corner: 'lr'}]}
});

// c: chlorophyll
panel('pc', {
  padLeft: 74, padRight: 116,
  datasets: [
    mainLine('Chlorophyll', CHLOROPHYLL, '#556b2f'),
    ...boxSets(C_LO, C_Q1, C_MED, C_Q3, C_HI, 'rgba(128,128,0,0.7)', 'rgba(128,128,0,0.92)')
  ],
  scales: {
    x: xAxis(false),
    y: yAxis({min: 0.009, max: 0.458, ticks: C_TICKS, fmt: v => v.toFixed(1), title: '[mg m⁻³]', width: 80})
  },
  decorOpts: {letter: 'c', legends: [{dataset: 0, corner: 'ur'}]}
});

// d: primary production
panel('pd', {
  padLeft: 54, padRight: 116,
  datasets: [
    mainLine('Primary production', PRIMARY_PRODUCTION, '#9932cc'),
    ...boxSets(D_LO, D_Q1, D_MED, D_Q3, D_HI, 'rgba(192,95,218,0.7)', 'rgba(186,85,211,0.9)')
  ],
  scales: {
    x: xAxis(false),
    y: yAxis({min: -81, max: 2649, ticks: D_TICKS, fmt: v => String(v), title: '[mgC m⁻² d⁻¹]', width: 100})
  },
  decorOpts: {letter: 'd', legends: [{dataset: 0, corner: 'ur'}]}
});

// e: phosphate
panel('pe', {
  padLeft: 61, padRight: 116,
  datasets: [
    mainLine('Phosphate', PHOSPHATE, GOLD_LINE),
    ...boxSets(E_LO, E_Q1, E_MED, E_Q3, E_HI, GOLD_WHISKER, GOLD_BOX)
  ],
  scales: {
    x: xAxis(true),
    y: yAxis({min: -0.00137, max: 0.1363, ticks: E_TICKS, fmt: v => v.toFixed(2), title: '[mmol m⁻³]', width: 93})
  },
  decorOpts: {letter: 'e', legends: [{dataset: 0, corner: 'ur'}]}
});
</script>
</body>
</html>
